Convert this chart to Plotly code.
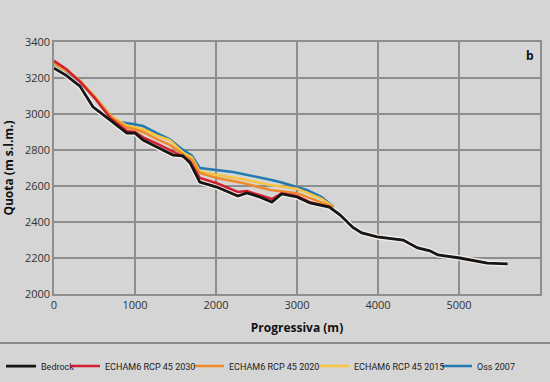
import plotly.graph_objects as go

# Bedrock
bed_x = [0, 150, 320, 480, 690, 900, 1000, 1100, 1270, 1470, 1590, 1680, 1800, 2010, 2270, 2380, 2540, 2690, 2810, 3000, 3160, 3280, 3400, 3530, 3690, 3800, 3990, 4310, 4490, 4640, 4740, 5010, 5350, 5600]
bed_y = [3255, 3215, 3155, 3040, 2967, 2894, 2894, 2855, 2817, 2772, 2768, 2728, 2622, 2594, 2544, 2561, 2539, 2511, 2556, 2539, 2506, 2494, 2483, 2440, 2370, 2339, 2317, 2300, 2256, 2240, 2217, 2200, 2172, 2167]

# ECHAM6 RCP 45 2030
r30_x = [0, 150, 320, 500, 700, 900, 1000, 1100, 1270, 1430, 1600, 1680, 1800, 2010, 2270, 2380, 2540, 2690, 2810, 3000, 3160, 3280, 3400]
r30_y = [3295, 3250, 3180, 3090, 2975, 2905, 2900, 2870, 2835, 2800, 2762, 2735, 2645, 2615, 2567, 2572, 2550, 2528, 2560, 2545, 2510, 2498, 2484]

# ECHAM6 RCP 45 2020
r20_x = [0, 150, 320, 500, 700, 900, 1000, 1100, 1270, 1430, 1600, 1700, 1800, 2010, 2300, 2670, 3000, 3300, 3450]
r20_y = [3285, 3245, 3185, 3095, 2985, 2925, 2915, 2900, 2860, 2828, 2772, 2745, 2672, 2644, 2620, 2578, 2560, 2511, 2483]

# ECHAM6 RCP 45 2015
r15_x = [0, 150, 320, 500, 700, 900, 1000, 1100, 1270, 1430, 1600, 1700, 1800, 2010, 2300, 2670, 3000, 3300, 3450]
r15_y = [3280, 3240, 3185, 3100, 2990, 2935, 2925, 2915, 2880, 2855, 2783, 2760, 2680, 2661, 2640, 2606, 2585, 2530, 2483]

# Oss 2007
oss_x = [0, 150, 320, 500, 700, 800, 975, 1100, 1270, 1430, 1580, 1700, 1800, 2210, 2670, 2790, 3120, 3300, 3450]
oss_y = [3278, 3238, 3180, 3095, 2990, 2955, 2944, 2933, 2894, 2860, 2805, 2770, 2700, 2678, 2635, 2622, 2578, 2540, 2483]

x_ticks = [0, 1000, 2000, 3000, 4000, 5000, 6000]
y_ticks = [2000, 2200, 2400, 2600, 2800, 3000, 3200, 3400]

BG = "#d5d5d5"
GRID = "#8e8e8e"

fig = go.Figure()

# series: name, x, y, colour, legend id
series = [
    ("Oss 2007", oss_x, oss_y, "#2479b0", "legend5"),
    ("ECHAM6 RCP 45 2015", r15_x, r15_y, "#f5c542", "legend4"),
    ("ECHAM6 RCP 45 2020", r20_x, r20_y, "#ee8a2a", "legend3"),
    ("ECHAM6 RCP 45 2030", r30_x, r30_y, "#d01f2e", "legend2"),
]

# light halo under bedrock
fig.add_trace(go.Scatter(x=bed_x, y=bed_y, mode="lines", line=dict(color="#f4ece8", width=5.5),
                         showlegend=False, hoverinfo="skip"))
for name, xs, ys, col, lg in series:
    fig.add_trace(go.Scatter(x=xs, y=ys, mode="lines", name=name, legend=lg,
                             line=dict(color=col, width=2.5)))
fig.add_trace(go.Scatter(x=bed_x, y=bed_y, mode="lines", name="Bedrock", legend="legend",
                         line=dict(color="#151515", width=2.8)))

leg_font = dict(size=9, family="Roboto, sans-serif", color="#222")
leg_y = -0.286
leg_px = {"legend": 1, "legend2": 65, "legend3": 189, "legend4": 314, "legend5": 437}
legends = {}
for key, px in leg_px.items():
    legends[key] = dict(orientation="h", x=(px - 54) / 486, xanchor="left", y=leg_y, yanchor="middle",
                        bgcolor="rgba(0,0,0,0)", font=leg_font, itemwidth=30)

fig.update_layout(
    width=550, height=382,
    margin=dict(l=54, r=10, t=42, b=88, autoexpand=False),
    paper_bgcolor=BG, plot_bgcolor=BG,
    font=dict(family="Open Sans, sans-serif", color="#333333", size=11),
    showlegend=True,
    **legends,
    xaxis=dict(range=[0, 6000], tickvals=x_ticks, showgrid=True, gridcolor=GRID, gridwidth=1.5,
               zeroline=False, showline=True, linecolor=GRID, linewidth=1.5, mirror=True,
               ticks="", tickfont=dict(size=11, color="#333"), automargin=False,
               title=dict(text="<b>Progressiva (m)</b>", font=dict(size=12, color="#111"), standoff=13)),
    yaxis=dict(range=[2000, 3400], tickvals=y_ticks, showgrid=True, gridcolor=GRID, gridwidth=1.5,
               zeroline=False, showline=True, linecolor=GRID, linewidth=1.5, mirror=True,
               ticks="", tickfont=dict(size=11, color="#333"), automargin=False,
               title=dict(text="<b>Quota (m s.l.m.)</b>", font=dict(size=12, color="#111"), standoff=9)),
    annotations=[dict(text="<b>b</b>", x=0.979, y=0.948, xref="paper", yref="paper",
                      xanchor="center", yanchor="middle",
                      showarrow=False, font=dict(size=12, color="#111"))],
    shapes=[dict(type="line", xref="paper", yref="paper", x0=-0.12, x1=1.03, y0=-0.194, y1=-0.194,
                 line=dict(color="#8a8a8a", width=2))],
)

fig.write_html("out.html", config={"displayModeBar": False},
               post_script="document.body.style.margin='0';document.body.style.background='#d5d5d5';")
